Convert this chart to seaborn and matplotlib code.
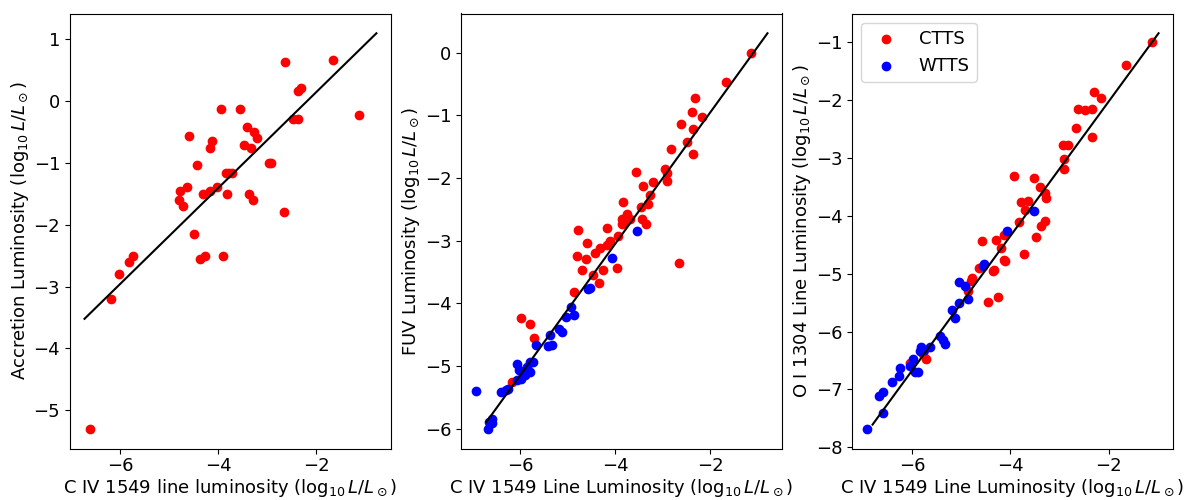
import numpy as np
import pandas as pd
import matplotlib
matplotlib.use("Agg")
import matplotlib.pyplot as plt
import seaborn as sns

# ---------------- data ----------------
# Panel 1: C IV vs accretion luminosity (CTTS only)
p1_x = [-2.63, -1.66, -2.38, -2.32, -3.95, -3.55, -1.14, -2.48, -2.37, -4.60,
        -3.41, -3.28, -3.21, -4.12, -4.16, -3.47, -3.33, -4.44, -2.96, -2.92,
        -3.85, -3.78, -3.71, -4.64, -4.78, -4.03, -4.31, -4.16, -3.82, -3.38,
        -3.30, -4.79, -4.72, -2.66, -4.49, -4.37, -4.27, -3.90, -5.73, -5.81,
        -6.01, -6.19, -6.61]
p1_y = [0.64, 0.67, 0.16, 0.22, -0.13, -0.13, -0.22, -0.29, -0.29, -0.57,
        -0.41, -0.50, -0.60, -0.65, -0.75, -0.70, -0.75, -1.03, -1.00, -1.00,
        -1.16, -1.16, -1.16, -1.39, -1.46, -1.39, -1.50, -1.46, -1.50, -1.50,
        -1.60, -1.60, -1.70, -1.79, -2.15, -2.55, -2.51, -2.50, -2.50, -2.60,
        -2.80, -3.20, -5.30]

# Panel 2: C IV vs FUV luminosity
p2_ctts_x = [-1.14, -1.67, -2.33, -2.38, -2.17, -2.62, -2.37, -2.49, -2.36, -2.82,
             -2.95, -2.92, -2.92, -3.56, -3.21, -3.42, -3.28, -3.31, -3.45, -3.83,
             -3.75, -3.86, -3.79, -3.69, -3.43, -3.36, -3.87, -4.17, -4.78, -4.59,
             -3.95, -4.11, -4.18, -4.32, -4.43, -4.80, -4.62, -4.71, -4.48, -4.25,
             -3.97, -4.35, -2.66, -4.87, -5.99, -5.80, -5.72, -6.18]
p2_ctts_y = [0.00, -0.47, -0.73, -0.94, -1.02, -1.14, -1.22, -1.42, -1.61, -1.54,
             -1.85, -1.92, -2.05, -1.90, -2.06, -2.13, -2.27, -2.42, -2.46, -2.39,
             -2.57, -2.66, -2.70, -2.66, -2.66, -2.73, -2.74, -2.79, -2.83, -3.03,
             -2.93, -3.01, -3.07, -3.12, -3.20, -3.25, -3.29, -3.47, -3.55, -3.47,
             -3.44, -3.67, -3.35, -3.82, -4.23, -4.33, -4.55, -5.25]
p2_wtts_x = [-3.55, -4.07, -4.57, -4.53, -4.94, -5.04, -4.87, -5.19, -5.12, -5.37,
             -5.42, -5.33, -5.67, -5.74, -5.80, -6.06, -5.85, -5.80, -6.02, -5.91,
             -5.98, -6.06, -6.25, -6.30, -6.41, -6.94, -6.59, -6.66, -6.59, -6.67]
p2_wtts_y = [-2.85, -3.27, -3.77, -3.75, -4.06, -4.22, -4.18, -4.41, -4.45, -4.51,
             -4.68, -4.66, -4.66, -4.94, -4.93, -4.97, -5.02, -5.09, -5.07, -5.14,
             -5.21, -5.23, -5.36, -5.38, -5.41, -5.40, -5.85, -5.89, -5.91, -6.00]

# Panel 3: C IV vs O I 1304 luminosity
p3_ctts_x = [-1.13, -1.66, -2.31, -2.16, -2.62, -2.48, -2.35, -2.66, -2.35, -2.94,
             -2.82, -2.92, -2.92, -3.93, -3.53, -3.40, -3.30, -3.27, -3.78, -3.64,
             -3.70, -3.83, -3.30, -3.37, -4.14, -3.47, -4.58, -4.30, -4.19, -3.73,
             -4.14, -4.10, -4.63, -4.33, -4.36, -4.77, -4.80, -4.87, -4.46, -4.26,
             -5.71, -5.77, -6.03]
p3_ctts_y = [-1.00, -1.40, -1.86, -1.97, -2.16, -2.18, -2.15, -2.49, -2.64, -2.77,
             -2.78, -3.01, -3.19, -3.31, -3.34, -3.50, -3.61, -3.70, -3.77, -3.74,
             -3.90, -4.11, -4.09, -4.18, -4.33, -4.36, -4.44, -4.42, -4.55, -4.66,
             -4.76, -4.78, -4.91, -4.94, -4.95, -5.08, -5.12, -5.30, -5.49, -5.41,
             -6.47, -6.39, -6.55]
p3_wtts_x = [-3.53, -4.06, -4.53, -4.56, -5.04, -4.92, -4.87, -5.04, -5.19, -5.13,
             -5.44, -5.36, -5.32, -5.81, -5.64, -5.83, -5.75, -5.98, -6.03, -5.94,
             -5.88, -6.25, -6.27, -6.40, -6.58, -6.67, -6.58, -6.92]
p3_wtts_y = [-3.91, -4.26, -4.84, -4.86, -5.15, -5.21, -5.44, -5.51, -5.63, -5.76,
             -6.08, -6.14, -6.22, -6.27, -6.27, -6.33, -6.32, -6.47, -6.60, -6.70,
             -6.70, -6.63, -6.77, -6.88, -7.04, -7.11, -7.41, -7.68]

# Linear fits: (slope, intercept, x_start, x_end)
fit1 = (0.778, 1.707, -6.72, -0.78)
fit2 = (1.049, 1.149, -6.71, -0.80)
fit3 = (1.164, 0.307, -6.80, -0.99)

unit = r"($\log_{10} L/L_\odot$)"
xlabels = ["C IV 1549 line luminosity " + unit,
           "C IV 1549 Line Luminosity " + unit,
           "C IV 1549 Line Luminosity " + unit]
ylabels = ["Accretion Luminosity " + unit,
           "FUV Luminosity " + unit,
           "O I 1304 Line Luminosity " + unit]

# ---------------- plot ----------------
plt.rcParams.update({"font.size": 13, "font.family": ["DejaVu Sans"]})

fig, axes = plt.subplots(1, 3, figsize=(11.85, 5), dpi=100)
fig.subplots_adjust(left=0.059, right=0.99, top=0.973, bottom=0.103, wspace=0.218)

sc_kw = dict(s=36, edgecolor="face", linewidth=1.0)


def draw_fit(ax, fit):
    m, b, x0, x1 = fit
    xs = np.array([x0, x1])
    sns.lineplot(x=xs, y=m * xs + b, ax=ax, color="black", linewidth=1.5)


ax = axes[0]
sns.scatterplot(x=p1_x, y=p1_y, ax=ax, color="red", **sc_kw)
draw_fit(ax, fit1)

ax = axes[1]
sns.scatterplot(x=p2_ctts_x, y=p2_ctts_y, ax=ax, color="red", label="CTTS", **sc_kw)
sns.scatterplot(x=p2_wtts_x, y=p2_wtts_y, ax=ax, color="blue", label="WTTS", **sc_kw)
draw_fit(ax, fit2)
ax.get_legend().remove()

ax = axes[2]
sns.scatterplot(x=p3_ctts_x, y=p3_ctts_y, ax=ax, color="red", label="CTTS", **sc_kw)
sns.scatterplot(x=p3_wtts_x, y=p3_wtts_y, ax=ax, color="blue", label="WTTS", **sc_kw)
draw_fit(ax, fit3)
ax.legend(loc="upper left", fontsize=13)

for ax, xl, yl in zip(axes, xlabels, ylabels):
    ax.set_xlabel(xl, labelpad=1.5)
    ax.set_ylabel(yl, labelpad=2)
    ax.set_xticks([-6, -4, -2])
    ax.tick_params(axis="x", pad=2.5)

fig.savefig("out.png", dpi=100)
